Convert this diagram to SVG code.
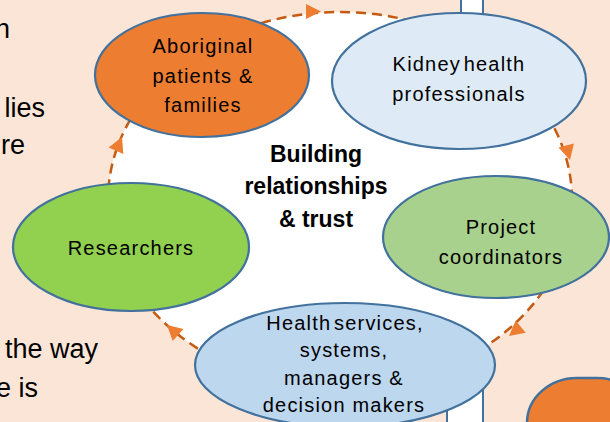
<svg xmlns="http://www.w3.org/2000/svg" width="610" height="422" viewBox="0 0 610 422">
<style>
.bg{fill:#FBE5D6}
.node{stroke:#41719C;stroke-width:2.2}
.lt{font-family:"Liberation Sans",Arial,sans-serif;font-size:20px;fill:#000;text-anchor:middle;letter-spacing:1.2px}
.side{font-family:"Liberation Sans",Arial,sans-serif;font-size:27px;fill:#000;text-anchor:end}
.ctr{font-family:"Liberation Sans",Arial,sans-serif;font-size:23px;font-weight:bold;fill:#000;text-anchor:middle}
.dash{fill:#fff;stroke:#C55A11;stroke-width:2.5;stroke-dasharray:10 6}
.head{fill:#ED7D31}
</style>
<rect class="bg" x="0" y="0" width="610" height="422"/>
<g id="side-text">
<text class="side" x="10" y="38">n</text>
<text class="side" x="45" y="117">lies</text>
<text class="side" x="25" y="154">re</text>
<text class="side" x="98" y="358">the way</text>
<text class="side" x="38" y="397">e is</text>
</g>
<g id="background-shapes">
<rect x="461" y="-5" width="22" height="40" fill="#fff" stroke="#41719C" stroke-width="2"/>
<rect x="447" y="370" width="36" height="60" fill="#fff" stroke="#41719C" stroke-width="2"/>
<rect x="527" y="378" width="120" height="90" rx="50" ry="50" fill="#ED7D31" stroke="#41719C" stroke-width="2.5"/>
</g>
<g id="connectors">
<ellipse class="dash" cx="340" cy="200" rx="232" ry="188"/>
<polygon class="head" points="321,11.5 306,4 306,19"/>
<polygon class="head" points="570,160 573.9,143.5 558.5,147.5"/>
<polygon class="head" points="509,336 525.7,332.8 515.7,320.4"/>
<polygon class="head" points="167,325 183.5,329.1 172.7,340.9"/>
<polygon class="head" points="122,137 123.3,153.9 108.7,147.5"/>
</g>
<g id="center-label">
<text class="ctr" x="316" y="162">Building</text>
<text class="ctr" x="316" y="194">relationships</text>
<text class="ctr" x="316" y="227">&amp; trust</text>
</g>
<g id="node-aboriginal">
<ellipse class="node" cx="202" cy="75" rx="107" ry="62" fill="#ED7D31"/>
<text class="lt" x="203" y="53">Aboriginal</text>
<text class="lt" x="203" y="83">patients &amp;</text>
<text class="lt" x="203" y="112">families</text>
</g>
<g id="node-kidney">
<ellipse class="node" cx="459" cy="81" rx="127" ry="68" fill="#DEEBF7"/>
<text class="lt" x="459" y="71" word-spacing="-4">Kidney health</text>
<text class="lt" x="459" y="101">professionals</text>
</g>
<g id="node-project">
<ellipse class="node" cx="496" cy="237" rx="113" ry="61" fill="#A9D18E"/>
<text class="lt" x="501" y="234">Project</text>
<text class="lt" x="501" y="264">coordinators</text>
</g>
<g id="node-health">
<ellipse class="node" cx="345" cy="365" rx="150" ry="62" fill="#BDD7EE"/>
<text class="lt" x="345" y="330" word-spacing="-4">Health services,</text>
<text class="lt" x="344" y="357">systems,</text>
<text class="lt" x="344" y="385">managers &amp;</text>
<text class="lt" x="344" y="412">decision makers</text>
</g>
<g id="node-researchers">
<ellipse class="node" cx="131" cy="247" rx="118" ry="64" fill="#92D050"/>
<text class="lt" x="131" y="255">Researchers</text>
</g>
</svg>
